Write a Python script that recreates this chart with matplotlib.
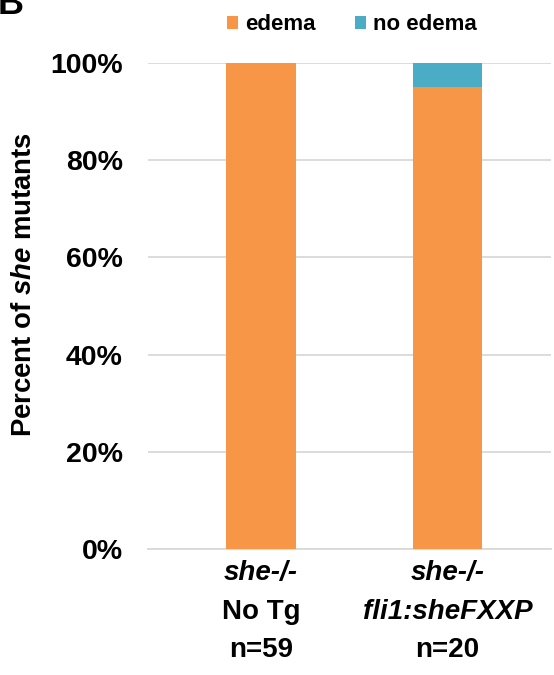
import matplotlib
matplotlib.use("Agg")
import matplotlib.pyplot as plt

plt.rcParams['font.family'] = ['Liberation Sans', 'DejaVu Sans']
plt.rcParams['font.weight'] = 'bold'
plt.rcParams['mathtext.fontset'] = 'custom'
plt.rcParams['mathtext.rm'] = 'Liberation Sans:bold'
plt.rcParams['mathtext.it'] = 'Liberation Sans:bold:italic'

# Data
group_line1 = ["she-/-", "she-/-"]
group_line2 = ["No Tg", "fli1:sheFXXP"]
group_line2_italic = [False, True]
group_n = ["n=59", "n=20"]
edema = [100, 95]
no_edema = [0, 5]
yticks = [0, 20, 40, 60, 80, 100]

c_edema = "#F79646"
c_no = "#4BACC6"

fig = plt.figure(figsize=(5.54, 6.75), dpi=100)
ax = fig.add_axes([0.267, 0.1867, 0.7276, 0.72])

x = list(range(len(group_line1)))
ax.bar(x, edema, width=0.375, color=c_edema, label="edema", zorder=3)
ax.bar(x, no_edema, width=0.375, bottom=edema, color=c_no, label="no edema", zorder=3)

ax.set_xlim(-0.606, 1.555)
ax.set_ylim(0, 100)
ax.set_yticks(yticks)
ax.set_yticklabels([f"{v}%" for v in yticks], fontsize=20.5, fontweight='bold')
ax.tick_params(axis='y', length=0, pad=18)
ax.tick_params(axis='x', length=0)
ax.set_xticks(x)
ax.set_xticklabels([])
ax.yaxis.grid(True, color="#D9D9D9", linewidth=1.3, zorder=0)
for s in ["top", "right", "left"]:
    ax.spines[s].set_visible(False)
ax.spines["bottom"].set_color("#D9D9D9")
ax.spines["bottom"].set_linewidth(1.3)
ax.spines["bottom"].set_zorder(0)

fig.text(24 / 554, 1 - 285 / 675, r"Percent of $\it{she}$ mutants", rotation=90,
         fontsize=19.8, fontweight='bold', ha='center', va='center')

# Category labels beneath the bars
for i in x:
    ax.annotate(group_line1[i], xy=(i, 0), xycoords=('data', 'axes fraction'),
                xytext=(0, -17.5), textcoords='offset points', ha='center', va='center',
                fontsize=20, fontweight='bold', fontstyle='italic')
    ax.annotate(group_line2[i], xy=(i, 0), xycoords=('data', 'axes fraction'),
                xytext=(0, -45.5), textcoords='offset points', ha='center', va='center',
                fontsize=20, fontweight='bold',
                fontstyle='italic' if group_line2_italic[i] else 'normal')
    ax.annotate(group_n[i], xy=(i, 0), xycoords=('data', 'axes fraction'),
                xytext=(0, -73), textcoords='offset points', ha='center', va='center',
                fontsize=20, fontweight='bold')

leg = ax.legend(loc='center', bbox_to_anchor=(352 / 554, 1 - 25 / 675),
                bbox_transform=fig.transFigure, ncol=2, frameon=False,
                fontsize=16, handlelength=0.5, handleheight=0.5, handletextpad=0.32,
                columnspacing=1.76, borderaxespad=0, borderpad=0)
for t in leg.get_texts():
    t.set_fontweight('bold')

fig.text(-0.004, 1 - 14 / 675, "B", fontsize=26, fontweight='bold', ha='left', va='baseline')

fig.savefig("out.png", dpi=100, facecolor='white')
